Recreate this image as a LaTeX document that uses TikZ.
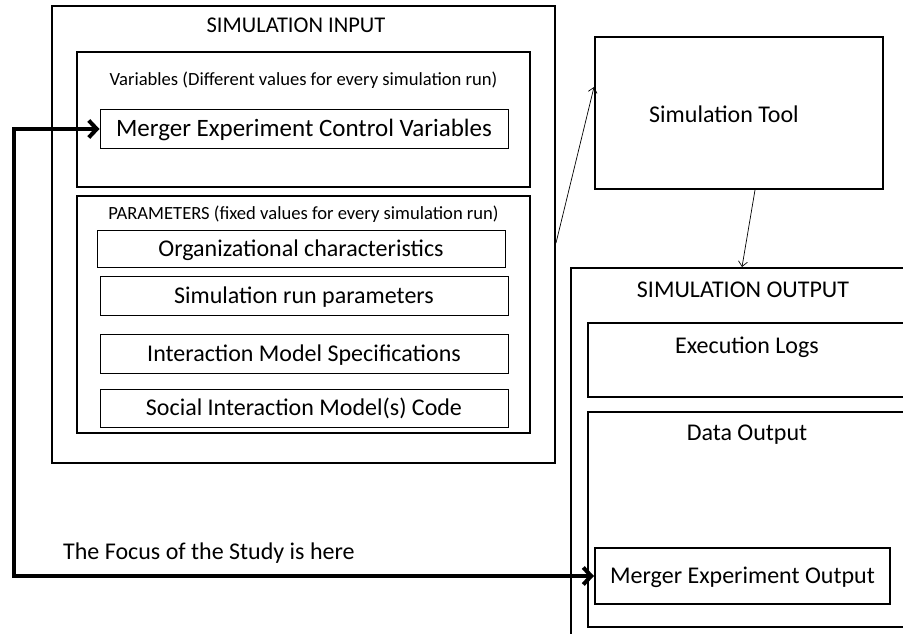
\documentclass[tikz,border=0pt]{standalone}
\usepackage{fontspec}
\setmainfont{Carlito}
\usetikzlibrary{arrows.meta}
\begin{document}
\begin{tikzpicture}[x=1pt,y=-1pt,
  bigbox/.style={draw,line width=2pt,inner sep=0pt,minimum width=#1},
  inbx/.style={draw,line width=1pt,inner sep=0pt,text height=15.5pt,text depth=0pt,font=\fontsize{24}{28}\selectfont},
  lbl/.style={inner sep=0pt,anchor=base,font=\fontsize{24}{28}\selectfont},
  small/.style={inner sep=0pt,anchor=base,font=\fontsize{18.6}{22}\selectfont},
  thin/.style={line width=0.7pt,-{Straight Barb[length=5pt,width=9pt]}},
  thick/.style={line width=4pt,{Straight Barb[length=8pt,width=17pt]}-{Straight Barb[length=8pt,width=17pt]}}]
\useasboundingbox (0,0) rectangle (903,634);
% simulation input
\node[bigbox=503pt,minimum height=457pt] (inbox) at (303.5,234.5) {};
\node[lbl,font=\fontsize{22.5}{27}\selectfont] (intitle) at (296,33) {SIMULATION INPUT};
\node[bigbox=453pt,minimum height=135pt] (vars) at (303.5,119.5) {};
\node[small] (varslbl) at (303.5,85) {Variables (Different values for every simulation run)};
\node[inbx,minimum width=408pt,minimum height=38pt,font=\fontsize{25}{29}\selectfont] (mcv) at (304,129) {Merger Experiment Control Variables};
\node[bigbox=453pt,minimum height=237pt] (params) at (303.5,314.5) {};
\node[small] (paramslbl) at (303.5,219) {PARAMETERS (fixed values for every simulation run)};
\node[inbx,minimum width=408pt,minimum height=37pt] (org) at (301,248.5) {Organizational characteristics};
\node[inbx,minimum width=408pt,minimum height=39pt] (srp) at (304,295.5) {Simulation run parameters};
\node[inbx,minimum width=408pt,minimum height=39pt] (ims) at (304,353.5) {Interaction Model Specifications};
\node[inbx,minimum width=408pt,minimum height=38pt] (sim) at (304,408) {Social Interaction Model(s) Code};
% tool
\node[bigbox=288pt,minimum height=152pt] (tool) at (739,113) {};
\node[lbl] (tooltxt) at (724,122) {Simulation Tool};
% output
\node[bigbox=349pt,minimum height=392pt] (outbox) at (745.5,464) {};
\node[lbl] (outtitle) at (743,297) {SIMULATION OUTPUT};
\node[bigbox=327pt,minimum height=74pt] (logs) at (751.5,360) {};
\node[lbl] (logstxt) at (747,353) {Execution Logs};
\node[bigbox=327pt,minimum height=215pt] (data) at (751.5,519.5) {};
\node[lbl] (datatxt) at (747,440) {Data Output};
\node[inbx,line width=2pt,minimum width=295pt,minimum height=56pt] (meo) at (742.5,576) {Merger Experiment Output};
% connectors
\draw[thin] ([yshift=-8.5pt]inbox.east) -- ([yshift=26pt]tool.west);
\draw[thin] ([xshift=16pt]tool.south) -- ([xshift=-3.5pt]outbox.north);
\coordinate (c1) at (14,129);
\coordinate (c2) at (14,576);
\draw[thick,line join=miter] (mcv.west) -- (c1) -- (c2) -- (meo.west);
\node[lbl,anchor=base west] (focus) at (63,559) {The Focus of the Study is here};
\end{tikzpicture}
\end{document}
